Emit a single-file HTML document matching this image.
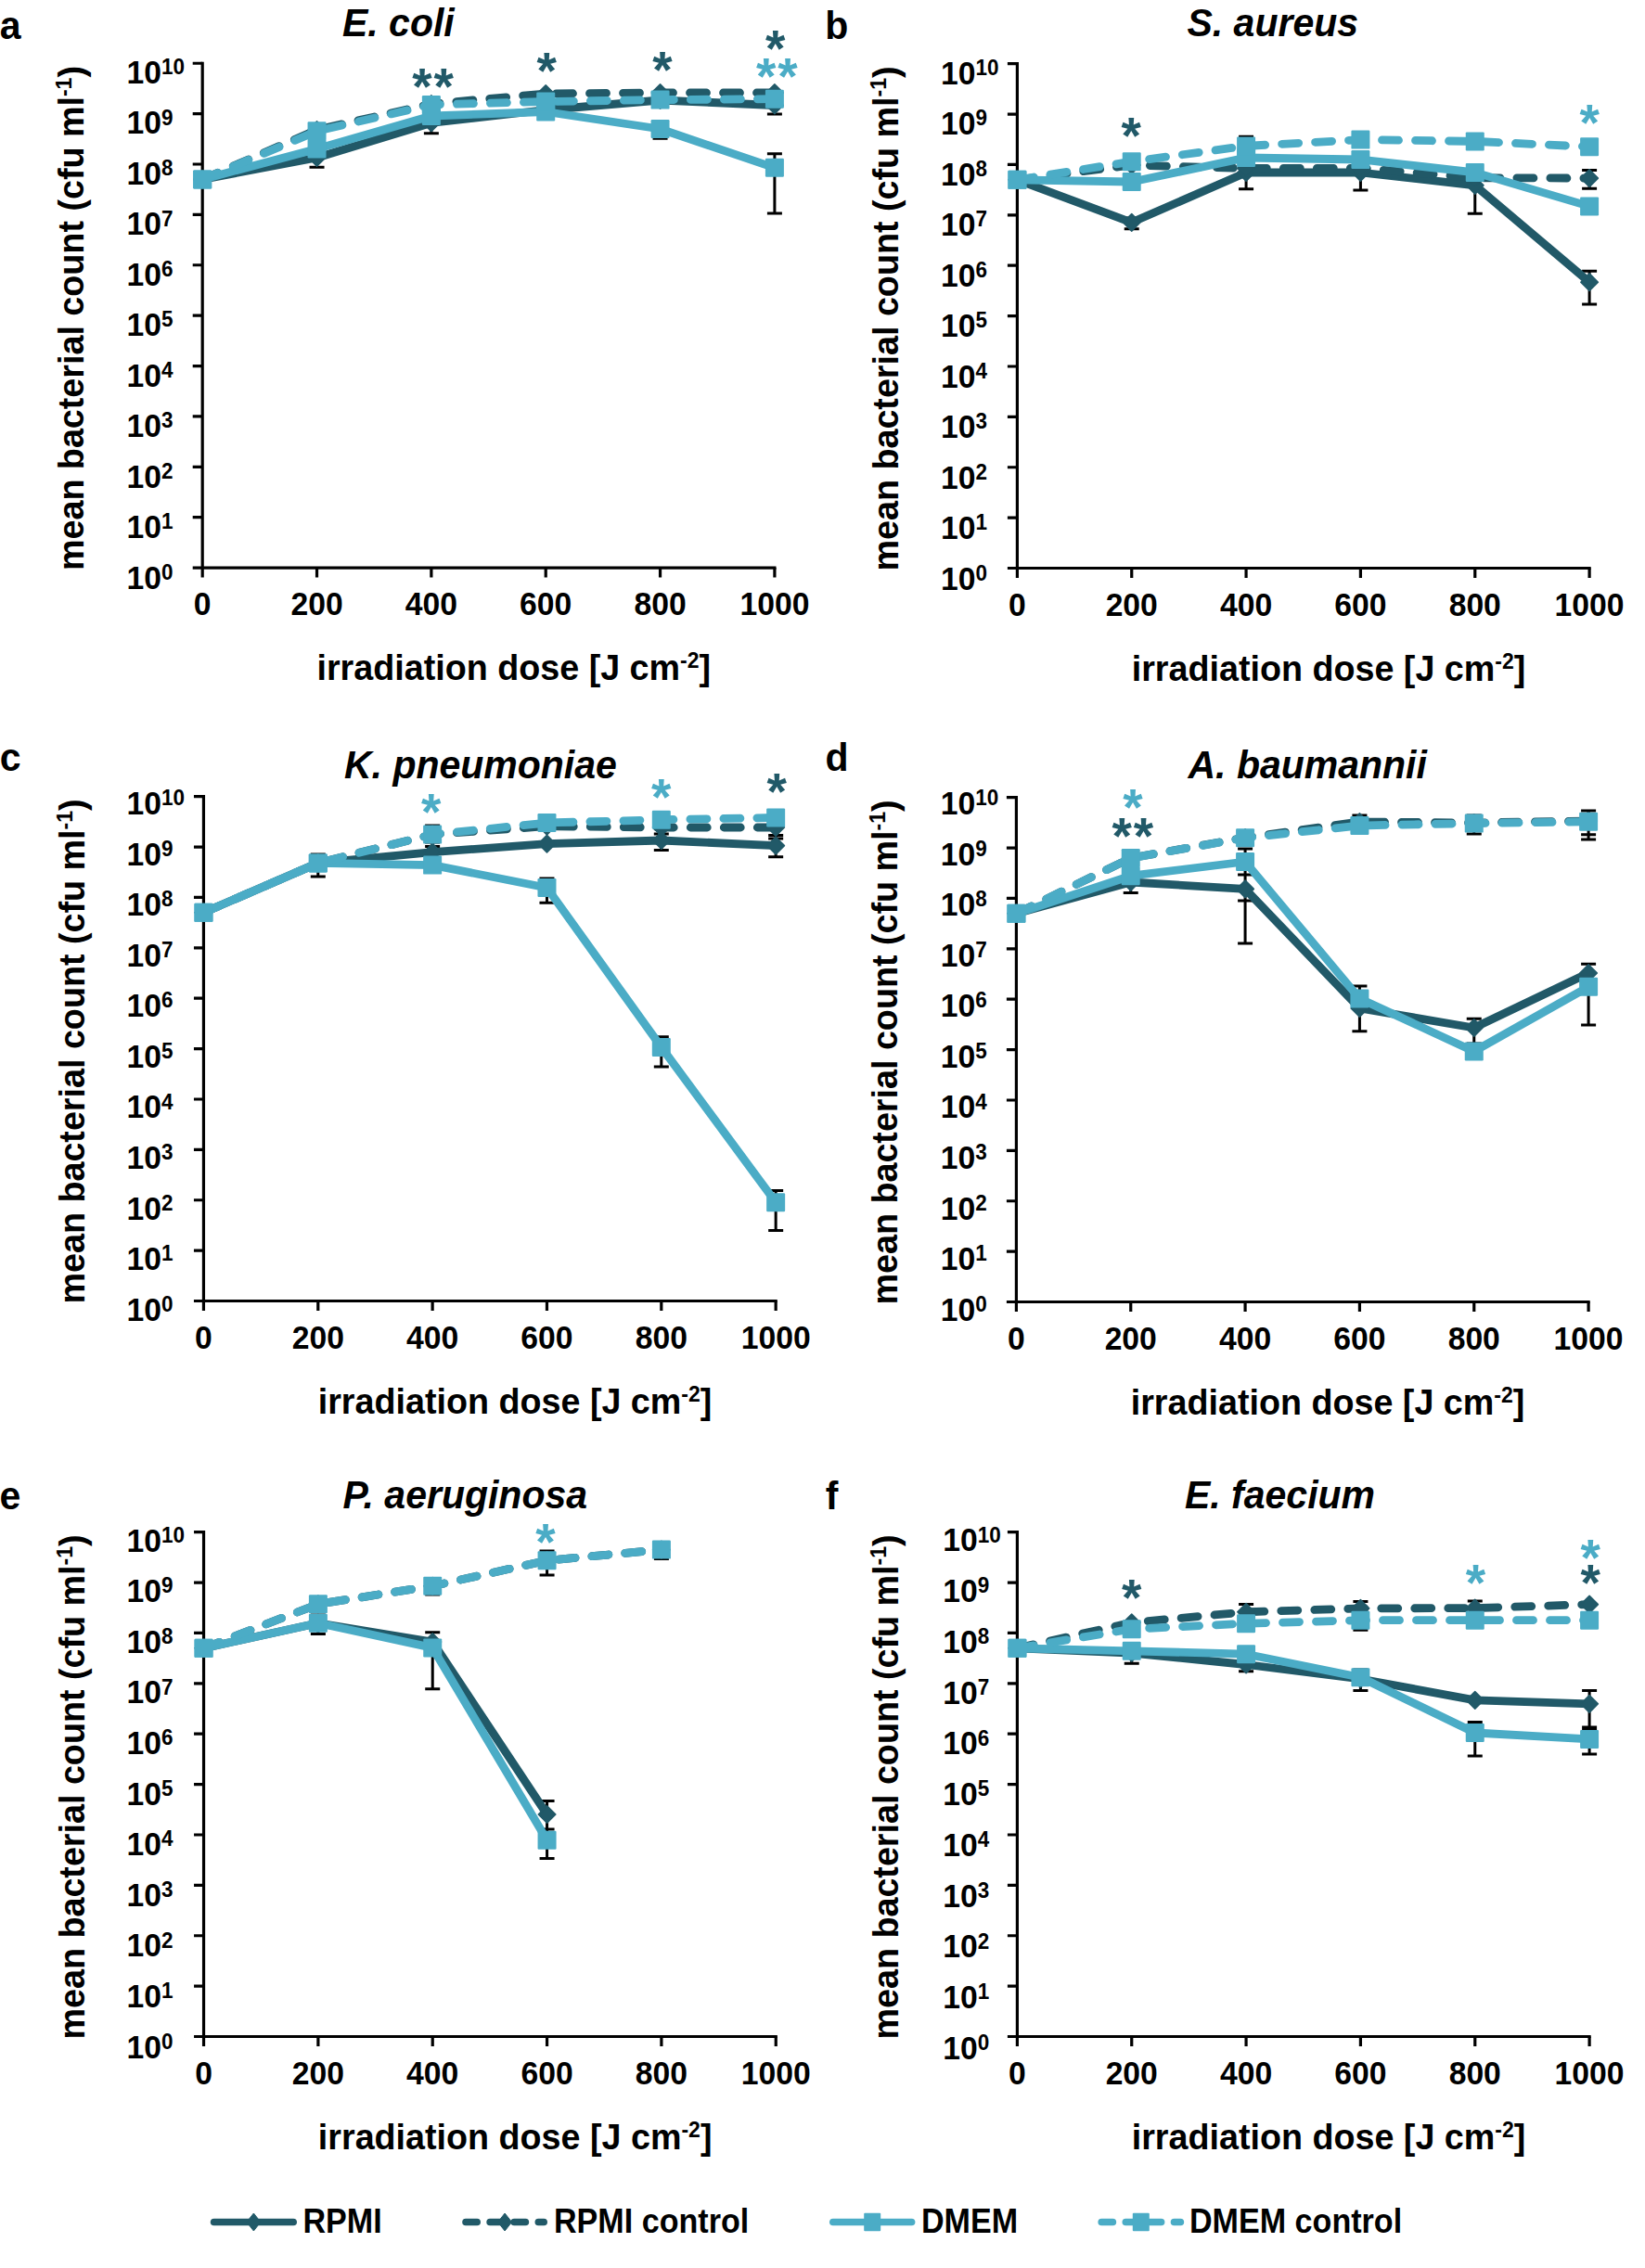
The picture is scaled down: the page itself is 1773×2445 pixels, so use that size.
<!DOCTYPE html>
<html lang="en"><head><meta charset="utf-8"><title>Figure</title>
<style>html,body{margin:0;padding:0;background:#fff}body{width:1773px;height:2445px;overflow:hidden}svg{display:block}text{font-family:'Liberation Sans', Arial, Helvetica, sans-serif}</style>
</head><body>
<svg width="1773" height="2445" viewBox="0 0 1773 2445">
<rect width="1773" height="2445" fill="#fff"/>
<g>
<text transform="translate(-0.3 42.2) scale(1 1.02)" font-size="41" font-weight="bold">a</text>
<text transform="translate(369 38.5) scale(1 1.03)" font-size="41" font-weight="bold" font-style="italic">E. coli</text>
<g stroke="#000" stroke-width="3.2" fill="none" stroke-linecap="butt">
<path d="M218.2 66.65V622.55"/>
<path d="M207.7 612.05H836.5"/>
<path d="M207.7 557.67H218.2M207.7 503.29H218.2M207.7 448.91H218.2M207.7 394.53H218.2M207.7 340.15H218.2M207.7 285.77H218.2M207.7 231.39H218.2M207.7 177.01H218.2M207.7 122.63H218.2M207.7 68.25H218.2M341.54 612.05V622.55M464.88 612.05V622.55M588.22 612.05V622.55M711.56 612.05V622.55M834.9 612.05V622.55"/>
</g>
<g font-weight="bold">
<text transform="translate(136.6 634.6) scale(1 1.06)" font-size="33.7">10<tspan font-size="22.5" dy="-9.25">0</tspan></text>
<text transform="translate(136.6 580.13) scale(1 1.06)" font-size="33.7">10<tspan font-size="22.5" dy="-9.25">1</tspan></text>
<text transform="translate(136.6 525.66) scale(1 1.06)" font-size="33.7">10<tspan font-size="22.5" dy="-9.25">2</tspan></text>
<text transform="translate(136.6 471.19) scale(1 1.06)" font-size="33.7">10<tspan font-size="22.5" dy="-9.25">3</tspan></text>
<text transform="translate(136.6 416.72) scale(1 1.06)" font-size="33.7">10<tspan font-size="22.5" dy="-9.25">4</tspan></text>
<text transform="translate(136.6 362.25) scale(1 1.06)" font-size="33.7">10<tspan font-size="22.5" dy="-9.25">5</tspan></text>
<text transform="translate(136.6 307.78) scale(1 1.06)" font-size="33.7">10<tspan font-size="22.5" dy="-9.25">6</tspan></text>
<text transform="translate(136.6 253.31) scale(1 1.06)" font-size="33.7">10<tspan font-size="22.5" dy="-9.25">7</tspan></text>
<text transform="translate(136.6 198.84) scale(1 1.06)" font-size="33.7">10<tspan font-size="22.5" dy="-9.25">8</tspan></text>
<text transform="translate(136.6 144.37) scale(1 1.06)" font-size="33.7">10<tspan font-size="22.5" dy="-9.25">9</tspan></text>
<text transform="translate(136.6 89.9) scale(1 1.06)" font-size="33.7">10<tspan font-size="22.5" dy="-9.25">10</tspan></text>
<text transform="translate(218.2 663.25) scale(1 1.06)" font-size="33.7" text-anchor="middle">0</text>
<text transform="translate(341.54 663.25) scale(1 1.06)" font-size="33.7" text-anchor="middle">200</text>
<text transform="translate(464.88 663.25) scale(1 1.06)" font-size="33.7" text-anchor="middle">400</text>
<text transform="translate(588.22 663.25) scale(1 1.06)" font-size="33.7" text-anchor="middle">600</text>
<text transform="translate(711.56 663.25) scale(1 1.06)" font-size="33.7" text-anchor="middle">800</text>
<text transform="translate(834.9 663.25) scale(1 1.06)" font-size="33.7" text-anchor="middle">1000</text>
</g>
<text transform="translate(553.8 733.05) scale(1 1.01)" font-size="37.7" text-anchor="middle" font-weight="bold">irradiation dose [J cm<tspan font-size="23" dy="-12.5">-2</tspan><tspan dy="12.5">]</tspan></text>
<text transform="translate(89.5 343.05) rotate(-90) scale(1 1.01)" font-size="37.7" text-anchor="middle" font-weight="bold">mean bacterial count (cfu ml<tspan font-size="23" dy="-12.5">-1</tspan><tspan dy="12.5">)</tspan></text>
<path d="M341.54 162V180.2M333.54 162H349.54M333.54 180.2H349.54M464.88 125V143.8M456.88 125H472.88M456.88 143.8H472.88M834.9 106V123M826.9 106H842.9M826.9 123H842.9M711.56 132V149.2M703.56 132H719.56M703.56 149.2H719.56M834.9 165.8V230M826.9 165.8H842.9M826.9 230H842.9" stroke="#000" stroke-width="3" fill="none"/>
<path d="M218.2 193.38L341.54 170L464.88 132.5L588.22 118.5L711.56 108L834.9 113.5" stroke="#215968" stroke-width="8.8" fill="none" stroke-linecap="round" stroke-linejoin="round"/>
<path d="M218.2 184.08L227.5 193.38L218.2 202.68L208.9 193.38Z" fill="#215968" stroke="#215968" stroke-width="1.5" stroke-linejoin="round"/>
<path d="M341.54 160.7L350.84 170L341.54 179.3L332.24 170Z" fill="#215968" stroke="#215968" stroke-width="1.5" stroke-linejoin="round"/>
<path d="M464.88 123.2L474.18 132.5L464.88 141.8L455.58 132.5Z" fill="#215968" stroke="#215968" stroke-width="1.5" stroke-linejoin="round"/>
<path d="M588.22 109.2L597.52 118.5L588.22 127.8L578.92 118.5Z" fill="#215968" stroke="#215968" stroke-width="1.5" stroke-linejoin="round"/>
<path d="M711.56 98.7L720.86 108L711.56 117.3L702.26 108Z" fill="#215968" stroke="#215968" stroke-width="1.5" stroke-linejoin="round"/>
<path d="M834.9 104.2L844.2 113.5L834.9 122.8L825.6 113.5Z" fill="#215968" stroke="#215968" stroke-width="1.5" stroke-linejoin="round"/>
<path d="M218.2 193.38L341.54 140L464.88 112L588.22 101L711.56 100L834.9 100" stroke="#215968" stroke-width="8.8" fill="none" stroke-linecap="round" stroke-linejoin="round" stroke-dasharray="18 18"/>
<path d="M218.2 184.08L227.5 193.38L218.2 202.68L208.9 193.38Z" fill="#215968" stroke="#215968" stroke-width="1.5" stroke-linejoin="round"/>
<path d="M341.54 130.7L350.84 140L341.54 149.3L332.24 140Z" fill="#215968" stroke="#215968" stroke-width="1.5" stroke-linejoin="round"/>
<path d="M464.88 102.7L474.18 112L464.88 121.3L455.58 112Z" fill="#215968" stroke="#215968" stroke-width="1.5" stroke-linejoin="round"/>
<path d="M588.22 91.7L597.52 101L588.22 110.3L578.92 101Z" fill="#215968" stroke="#215968" stroke-width="1.5" stroke-linejoin="round"/>
<path d="M711.56 90.7L720.86 100L711.56 109.3L702.26 100Z" fill="#215968" stroke="#215968" stroke-width="1.5" stroke-linejoin="round"/>
<path d="M834.9 90.7L844.2 100L834.9 109.3L825.6 100Z" fill="#215968" stroke="#215968" stroke-width="1.5" stroke-linejoin="round"/>
<path d="M218.2 193.38L341.54 160.5L464.88 125L588.22 120.5L711.56 139L834.9 180.8" stroke="#4bacc6" stroke-width="8.8" fill="none" stroke-linecap="round" stroke-linejoin="round"/>
<rect x="208.2" y="183.38" width="20" height="20" rx="1.2" fill="#4bacc6"/>
<rect x="331.54" y="150.5" width="20" height="20" rx="1.2" fill="#4bacc6"/>
<rect x="454.88" y="115" width="20" height="20" rx="1.2" fill="#4bacc6"/>
<rect x="578.22" y="110.5" width="20" height="20" rx="1.2" fill="#4bacc6"/>
<rect x="701.56" y="129" width="20" height="20" rx="1.2" fill="#4bacc6"/>
<rect x="824.9" y="170.8" width="20" height="20" rx="1.2" fill="#4bacc6"/>
<path d="M218.2 193.38L341.54 141.3L464.88 113L588.22 109.5L711.56 107.6L834.9 106.7" stroke="#4bacc6" stroke-width="8.8" fill="none" stroke-linecap="round" stroke-linejoin="round" stroke-dasharray="18 18"/>
<rect x="208.2" y="183.38" width="20" height="20" rx="1.2" fill="#4bacc6"/>
<rect x="331.54" y="131.3" width="20" height="20" rx="1.2" fill="#4bacc6"/>
<rect x="454.88" y="103" width="20" height="20" rx="1.2" fill="#4bacc6"/>
<rect x="578.22" y="99.5" width="20" height="20" rx="1.2" fill="#4bacc6"/>
<rect x="701.56" y="97.6" width="20" height="20" rx="1.2" fill="#4bacc6"/>
<rect x="824.9" y="96.7" width="20" height="20" rx="1.2" fill="#4bacc6"/>
<text transform="translate(467.6 111.5)" font-size="55" text-anchor="middle" font-weight="bold" fill="#215968" letter-spacing="2">**</text>
<text transform="translate(589.1 95.2)" font-size="55" text-anchor="middle" font-weight="bold" fill="#215968">*</text>
<text transform="translate(714 93.9)" font-size="55" text-anchor="middle" font-weight="bold" fill="#215968">*</text>
<text transform="translate(835.7 71.1)" font-size="55" text-anchor="middle" font-weight="bold" fill="#215968">*</text>
<text transform="translate(838.3 100.5)" font-size="55" text-anchor="middle" font-weight="bold" fill="#4bacc6" letter-spacing="2">**</text>
</g>
<g>
<text transform="translate(889.3 42.2) scale(1 1.02)" font-size="41" font-weight="bold">b</text>
<text transform="translate(1279.5 38.5) scale(1 1.03)" font-size="41" font-weight="bold" font-style="italic">S. aureus</text>
<g stroke="#000" stroke-width="3.2" fill="none" stroke-linecap="butt">
<path d="M1096.4 67.1V623"/>
<path d="M1085.9 612.5H1714.7"/>
<path d="M1085.9 558.12H1096.4M1085.9 503.74H1096.4M1085.9 449.36H1096.4M1085.9 394.98H1096.4M1085.9 340.6H1096.4M1085.9 286.22H1096.4M1085.9 231.84H1096.4M1085.9 177.46H1096.4M1085.9 123.08H1096.4M1085.9 68.7H1096.4M1219.74 612.5V623M1343.08 612.5V623M1466.42 612.5V623M1589.76 612.5V623M1713.1 612.5V623"/>
</g>
<g font-weight="bold">
<text transform="translate(1014.1 635.6) scale(1 1.06)" font-size="33.7">10<tspan font-size="22.5" dy="-9.25">0</tspan></text>
<text transform="translate(1014.1 581.11) scale(1 1.06)" font-size="33.7">10<tspan font-size="22.5" dy="-9.25">1</tspan></text>
<text transform="translate(1014.1 526.62) scale(1 1.06)" font-size="33.7">10<tspan font-size="22.5" dy="-9.25">2</tspan></text>
<text transform="translate(1014.1 472.13) scale(1 1.06)" font-size="33.7">10<tspan font-size="22.5" dy="-9.25">3</tspan></text>
<text transform="translate(1014.1 417.64) scale(1 1.06)" font-size="33.7">10<tspan font-size="22.5" dy="-9.25">4</tspan></text>
<text transform="translate(1014.1 363.15) scale(1 1.06)" font-size="33.7">10<tspan font-size="22.5" dy="-9.25">5</tspan></text>
<text transform="translate(1014.1 308.66) scale(1 1.06)" font-size="33.7">10<tspan font-size="22.5" dy="-9.25">6</tspan></text>
<text transform="translate(1014.1 254.17) scale(1 1.06)" font-size="33.7">10<tspan font-size="22.5" dy="-9.25">7</tspan></text>
<text transform="translate(1014.1 199.68) scale(1 1.06)" font-size="33.7">10<tspan font-size="22.5" dy="-9.25">8</tspan></text>
<text transform="translate(1014.1 145.19) scale(1 1.06)" font-size="33.7">10<tspan font-size="22.5" dy="-9.25">9</tspan></text>
<text transform="translate(1014.1 90.7) scale(1 1.06)" font-size="33.7">10<tspan font-size="22.5" dy="-9.25">10</tspan></text>
<text transform="translate(1096.4 663.7) scale(1 1.06)" font-size="33.7" text-anchor="middle">0</text>
<text transform="translate(1219.74 663.7) scale(1 1.06)" font-size="33.7" text-anchor="middle">200</text>
<text transform="translate(1343.08 663.7) scale(1 1.06)" font-size="33.7" text-anchor="middle">400</text>
<text transform="translate(1466.42 663.7) scale(1 1.06)" font-size="33.7" text-anchor="middle">600</text>
<text transform="translate(1589.76 663.7) scale(1 1.06)" font-size="33.7" text-anchor="middle">800</text>
<text transform="translate(1713.1 663.7) scale(1 1.06)" font-size="33.7" text-anchor="middle">1000</text>
</g>
<text transform="translate(1432 733.5) scale(1 1.01)" font-size="37.7" text-anchor="middle" font-weight="bold">irradiation dose [J cm<tspan font-size="23" dy="-12.5">-2</tspan><tspan dy="12.5">]</tspan></text>
<text transform="translate(967.7 343.5) rotate(-90) scale(1 1.01)" font-size="37.7" text-anchor="middle" font-weight="bold">mean bacterial count (cfu ml<tspan font-size="23" dy="-12.5">-1</tspan><tspan dy="12.5">)</tspan></text>
<path d="M1219.74 235V246.7M1211.74 235H1227.74M1211.74 246.7H1227.74M1343.08 176V203.8M1335.08 176H1351.08M1335.08 203.8H1351.08M1466.42 176V205M1458.42 176H1474.42M1458.42 205H1474.42M1589.76 188V230.2M1581.76 188H1597.76M1581.76 230.2H1597.76M1713.1 292.2V328M1705.1 292.2H1721.1M1705.1 328H1721.1M1713.1 183.6V203.2M1705.1 183.6H1721.1M1705.1 203.2H1721.1M1343.08 147.3V168M1335.08 147.3H1351.08M1335.08 168H1351.08" stroke="#000" stroke-width="3" fill="none"/>
<path d="M1096.4 193.83L1219.74 239.8L1343.08 186L1466.42 186L1589.76 199.8L1713.1 304.2" stroke="#215968" stroke-width="8.8" fill="none" stroke-linecap="round" stroke-linejoin="round"/>
<path d="M1096.4 184.53L1105.7 193.83L1096.4 203.13L1087.1 193.83Z" fill="#215968" stroke="#215968" stroke-width="1.5" stroke-linejoin="round"/>
<path d="M1219.74 230.5L1229.04 239.8L1219.74 249.1L1210.44 239.8Z" fill="#215968" stroke="#215968" stroke-width="1.5" stroke-linejoin="round"/>
<path d="M1343.08 176.7L1352.38 186L1343.08 195.3L1333.78 186Z" fill="#215968" stroke="#215968" stroke-width="1.5" stroke-linejoin="round"/>
<path d="M1466.42 176.7L1475.72 186L1466.42 195.3L1457.12 186Z" fill="#215968" stroke="#215968" stroke-width="1.5" stroke-linejoin="round"/>
<path d="M1589.76 190.5L1599.06 199.8L1589.76 209.1L1580.46 199.8Z" fill="#215968" stroke="#215968" stroke-width="1.5" stroke-linejoin="round"/>
<path d="M1713.1 294.9L1722.4 304.2L1713.1 313.5L1703.8 304.2Z" fill="#215968" stroke="#215968" stroke-width="1.5" stroke-linejoin="round"/>
<path d="M1096.4 193.83L1219.74 178L1343.08 181.5L1466.42 181.3L1589.76 191.7L1713.1 192.1" stroke="#215968" stroke-width="8.8" fill="none" stroke-linecap="round" stroke-linejoin="round" stroke-dasharray="18 18"/>
<path d="M1096.4 184.53L1105.7 193.83L1096.4 203.13L1087.1 193.83Z" fill="#215968" stroke="#215968" stroke-width="1.5" stroke-linejoin="round"/>
<path d="M1219.74 168.7L1229.04 178L1219.74 187.3L1210.44 178Z" fill="#215968" stroke="#215968" stroke-width="1.5" stroke-linejoin="round"/>
<path d="M1343.08 172.2L1352.38 181.5L1343.08 190.8L1333.78 181.5Z" fill="#215968" stroke="#215968" stroke-width="1.5" stroke-linejoin="round"/>
<path d="M1466.42 172L1475.72 181.3L1466.42 190.6L1457.12 181.3Z" fill="#215968" stroke="#215968" stroke-width="1.5" stroke-linejoin="round"/>
<path d="M1589.76 182.4L1599.06 191.7L1589.76 201L1580.46 191.7Z" fill="#215968" stroke="#215968" stroke-width="1.5" stroke-linejoin="round"/>
<path d="M1713.1 182.8L1722.4 192.1L1713.1 201.4L1703.8 192.1Z" fill="#215968" stroke="#215968" stroke-width="1.5" stroke-linejoin="round"/>
<path d="M1096.4 193.83L1219.74 196L1343.08 170L1466.42 172L1589.76 185.9L1713.1 222.4" stroke="#4bacc6" stroke-width="8.8" fill="none" stroke-linecap="round" stroke-linejoin="round"/>
<rect x="1086.4" y="183.83" width="20" height="20" rx="1.2" fill="#4bacc6"/>
<rect x="1209.74" y="186" width="20" height="20" rx="1.2" fill="#4bacc6"/>
<rect x="1333.08" y="160" width="20" height="20" rx="1.2" fill="#4bacc6"/>
<rect x="1456.42" y="162" width="20" height="20" rx="1.2" fill="#4bacc6"/>
<rect x="1579.76" y="175.9" width="20" height="20" rx="1.2" fill="#4bacc6"/>
<rect x="1703.1" y="212.4" width="20" height="20" rx="1.2" fill="#4bacc6"/>
<path d="M1096.4 193.83L1219.74 174.2L1343.08 157.4L1466.42 150.6L1589.76 152.4L1713.1 158.2" stroke="#4bacc6" stroke-width="8.8" fill="none" stroke-linecap="round" stroke-linejoin="round" stroke-dasharray="18 18"/>
<rect x="1086.4" y="183.83" width="20" height="20" rx="1.2" fill="#4bacc6"/>
<rect x="1209.74" y="164.2" width="20" height="20" rx="1.2" fill="#4bacc6"/>
<rect x="1333.08" y="147.4" width="20" height="20" rx="1.2" fill="#4bacc6"/>
<rect x="1456.42" y="140.6" width="20" height="20" rx="1.2" fill="#4bacc6"/>
<rect x="1579.76" y="142.4" width="20" height="20" rx="1.2" fill="#4bacc6"/>
<rect x="1703.1" y="148.2" width="20" height="20" rx="1.2" fill="#4bacc6"/>
<text transform="translate(1219.2 164.9)" font-size="55" text-anchor="middle" font-weight="bold" fill="#215968">*</text>
<text transform="translate(1713.1 151.4)" font-size="55" text-anchor="middle" font-weight="bold" fill="#4bacc6">*</text>
</g>
<g>
<text transform="translate(-0.2 831.2) scale(1 1.02)" font-size="41" font-weight="bold">c</text>
<text transform="translate(371 838.7) scale(1 1.03)" font-size="41" font-weight="bold" font-style="italic">K. pneumoniae</text>
<g stroke="#000" stroke-width="3.2" fill="none" stroke-linecap="butt">
<path d="M219.45 857.1V1413"/>
<path d="M208.95 1402.5H837.75"/>
<path d="M208.95 1348.12H219.45M208.95 1293.74H219.45M208.95 1239.36H219.45M208.95 1184.98H219.45M208.95 1130.6H219.45M208.95 1076.22H219.45M208.95 1021.84H219.45M208.95 967.46H219.45M208.95 913.08H219.45M208.95 858.7H219.45M342.79 1402.5V1413M466.13 1402.5V1413M589.47 1402.5V1413M712.81 1402.5V1413M836.15 1402.5V1413"/>
</g>
<g font-weight="bold">
<text transform="translate(136.6 1423.6) scale(1 1.06)" font-size="33.7">10<tspan font-size="22.5" dy="-9.25">0</tspan></text>
<text transform="translate(136.6 1369.05) scale(1 1.06)" font-size="33.7">10<tspan font-size="22.5" dy="-9.25">1</tspan></text>
<text transform="translate(136.6 1314.5) scale(1 1.06)" font-size="33.7">10<tspan font-size="22.5" dy="-9.25">2</tspan></text>
<text transform="translate(136.6 1259.95) scale(1 1.06)" font-size="33.7">10<tspan font-size="22.5" dy="-9.25">3</tspan></text>
<text transform="translate(136.6 1205.4) scale(1 1.06)" font-size="33.7">10<tspan font-size="22.5" dy="-9.25">4</tspan></text>
<text transform="translate(136.6 1150.85) scale(1 1.06)" font-size="33.7">10<tspan font-size="22.5" dy="-9.25">5</tspan></text>
<text transform="translate(136.6 1096.3) scale(1 1.06)" font-size="33.7">10<tspan font-size="22.5" dy="-9.25">6</tspan></text>
<text transform="translate(136.6 1041.75) scale(1 1.06)" font-size="33.7">10<tspan font-size="22.5" dy="-9.25">7</tspan></text>
<text transform="translate(136.6 987.2) scale(1 1.06)" font-size="33.7">10<tspan font-size="22.5" dy="-9.25">8</tspan></text>
<text transform="translate(136.6 932.65) scale(1 1.06)" font-size="33.7">10<tspan font-size="22.5" dy="-9.25">9</tspan></text>
<text transform="translate(136.6 878.1) scale(1 1.06)" font-size="33.7">10<tspan font-size="22.5" dy="-9.25">10</tspan></text>
<text transform="translate(219.45 1453.7) scale(1 1.06)" font-size="33.7" text-anchor="middle">0</text>
<text transform="translate(342.79 1453.7) scale(1 1.06)" font-size="33.7" text-anchor="middle">200</text>
<text transform="translate(466.13 1453.7) scale(1 1.06)" font-size="33.7" text-anchor="middle">400</text>
<text transform="translate(589.47 1453.7) scale(1 1.06)" font-size="33.7" text-anchor="middle">600</text>
<text transform="translate(712.81 1453.7) scale(1 1.06)" font-size="33.7" text-anchor="middle">800</text>
<text transform="translate(836.15 1453.7) scale(1 1.06)" font-size="33.7" text-anchor="middle">1000</text>
</g>
<text transform="translate(555.05 1523.5) scale(1 1.01)" font-size="37.7" text-anchor="middle" font-weight="bold">irradiation dose [J cm<tspan font-size="23" dy="-12.5">-2</tspan><tspan dy="12.5">]</tspan></text>
<text transform="translate(90.75 1133.5) rotate(-90) scale(1 1.01)" font-size="37.7" text-anchor="middle" font-weight="bold">mean bacterial count (cfu ml<tspan font-size="23" dy="-12.5">-1</tspan><tspan dy="12.5">)</tspan></text>
<path d="M342.79 921V945M334.79 921H350.79M334.79 945H350.79M466.13 908V930M458.13 908H474.13M458.13 930H474.13M712.81 899V916.4M704.81 899H720.81M704.81 916.4H720.81M836.15 900.5V923.7M828.15 900.5H844.15M828.15 923.7H844.15M836.15 882V904M828.15 882H844.15M828.15 904H844.15M589.47 947V973.2M581.47 947H597.47M581.47 973.2H597.47M712.81 1117.8V1150M704.81 1117.8H720.81M704.81 1150H720.81M836.15 1283.4V1326.4M828.15 1283.4H844.15M828.15 1326.4H844.15M466.13 890V912.5M458.13 890H474.13M458.13 912.5H474.13" stroke="#000" stroke-width="3" fill="none"/>
<path d="M219.45 983.83L342.79 930.4L466.13 918.6L589.47 909.7L712.81 906L836.15 911.6" stroke="#215968" stroke-width="8.8" fill="none" stroke-linecap="round" stroke-linejoin="round"/>
<path d="M219.45 974.53L228.75 983.83L219.45 993.13L210.15 983.83Z" fill="#215968" stroke="#215968" stroke-width="1.5" stroke-linejoin="round"/>
<path d="M342.79 921.1L352.09 930.4L342.79 939.7L333.49 930.4Z" fill="#215968" stroke="#215968" stroke-width="1.5" stroke-linejoin="round"/>
<path d="M466.13 909.3L475.43 918.6L466.13 927.9L456.83 918.6Z" fill="#215968" stroke="#215968" stroke-width="1.5" stroke-linejoin="round"/>
<path d="M589.47 900.4L598.77 909.7L589.47 919L580.17 909.7Z" fill="#215968" stroke="#215968" stroke-width="1.5" stroke-linejoin="round"/>
<path d="M712.81 896.7L722.11 906L712.81 915.3L703.51 906Z" fill="#215968" stroke="#215968" stroke-width="1.5" stroke-linejoin="round"/>
<path d="M836.15 902.3L845.45 911.6L836.15 920.9L826.85 911.6Z" fill="#215968" stroke="#215968" stroke-width="1.5" stroke-linejoin="round"/>
<path d="M219.45 983.83L342.79 930.4L466.13 899.6L589.47 890.7L712.81 892L836.15 892" stroke="#215968" stroke-width="8.8" fill="none" stroke-linecap="round" stroke-linejoin="round" stroke-dasharray="18 18"/>
<path d="M219.45 974.53L228.75 983.83L219.45 993.13L210.15 983.83Z" fill="#215968" stroke="#215968" stroke-width="1.5" stroke-linejoin="round"/>
<path d="M342.79 921.1L352.09 930.4L342.79 939.7L333.49 930.4Z" fill="#215968" stroke="#215968" stroke-width="1.5" stroke-linejoin="round"/>
<path d="M466.13 890.3L475.43 899.6L466.13 908.9L456.83 899.6Z" fill="#215968" stroke="#215968" stroke-width="1.5" stroke-linejoin="round"/>
<path d="M589.47 881.4L598.77 890.7L589.47 900L580.17 890.7Z" fill="#215968" stroke="#215968" stroke-width="1.5" stroke-linejoin="round"/>
<path d="M712.81 882.7L722.11 892L712.81 901.3L703.51 892Z" fill="#215968" stroke="#215968" stroke-width="1.5" stroke-linejoin="round"/>
<path d="M836.15 882.7L845.45 892L836.15 901.3L826.85 892Z" fill="#215968" stroke="#215968" stroke-width="1.5" stroke-linejoin="round"/>
<path d="M219.45 983.83L342.79 930.4L466.13 932.6L589.47 957L712.81 1128.9L836.15 1296.2" stroke="#4bacc6" stroke-width="8.8" fill="none" stroke-linecap="round" stroke-linejoin="round"/>
<rect x="209.45" y="973.83" width="20" height="20" rx="1.2" fill="#4bacc6"/>
<rect x="332.79" y="920.4" width="20" height="20" rx="1.2" fill="#4bacc6"/>
<rect x="456.13" y="922.6" width="20" height="20" rx="1.2" fill="#4bacc6"/>
<rect x="579.47" y="947" width="20" height="20" rx="1.2" fill="#4bacc6"/>
<rect x="702.81" y="1118.9" width="20" height="20" rx="1.2" fill="#4bacc6"/>
<rect x="826.15" y="1286.2" width="20" height="20" rx="1.2" fill="#4bacc6"/>
<path d="M219.45 983.83L342.79 930.4L466.13 899.6L589.47 887L712.81 883.7L836.15 881.4" stroke="#4bacc6" stroke-width="8.8" fill="none" stroke-linecap="round" stroke-linejoin="round" stroke-dasharray="18 18"/>
<rect x="209.45" y="973.83" width="20" height="20" rx="1.2" fill="#4bacc6"/>
<rect x="332.79" y="920.4" width="20" height="20" rx="1.2" fill="#4bacc6"/>
<rect x="456.13" y="889.6" width="20" height="20" rx="1.2" fill="#4bacc6"/>
<rect x="579.47" y="877" width="20" height="20" rx="1.2" fill="#4bacc6"/>
<rect x="702.81" y="873.7" width="20" height="20" rx="1.2" fill="#4bacc6"/>
<rect x="826.15" y="871.4" width="20" height="20" rx="1.2" fill="#4bacc6"/>
<text transform="translate(464.6 893.8)" font-size="55" text-anchor="middle" font-weight="bold" fill="#4bacc6">*</text>
<text transform="translate(712.8 877.6)" font-size="55" text-anchor="middle" font-weight="bold" fill="#4bacc6">*</text>
<text transform="translate(837.3 872)" font-size="55" text-anchor="middle" font-weight="bold" fill="#215968">*</text>
</g>
<g>
<text transform="translate(889.5 831.2) scale(1 1.02)" font-size="41" font-weight="bold">d</text>
<text transform="translate(1280.5 838.7) scale(1 1.03)" font-size="41" font-weight="bold" font-style="italic">A. baumannii</text>
<g stroke="#000" stroke-width="3.2" fill="none" stroke-linecap="butt">
<path d="M1095.4 858.1V1414"/>
<path d="M1084.9 1403.5H1713.7"/>
<path d="M1084.9 1349.12H1095.4M1084.9 1294.74H1095.4M1084.9 1240.36H1095.4M1084.9 1185.98H1095.4M1084.9 1131.6H1095.4M1084.9 1077.22H1095.4M1084.9 1022.84H1095.4M1084.9 968.46H1095.4M1084.9 914.08H1095.4M1084.9 859.7H1095.4M1218.74 1403.5V1414M1342.08 1403.5V1414M1465.42 1403.5V1414M1588.76 1403.5V1414M1712.1 1403.5V1414"/>
</g>
<g font-weight="bold">
<text transform="translate(1013.7 1423.6) scale(1 1.06)" font-size="33.7">10<tspan font-size="22.5" dy="-9.25">0</tspan></text>
<text transform="translate(1013.7 1369.05) scale(1 1.06)" font-size="33.7">10<tspan font-size="22.5" dy="-9.25">1</tspan></text>
<text transform="translate(1013.7 1314.5) scale(1 1.06)" font-size="33.7">10<tspan font-size="22.5" dy="-9.25">2</tspan></text>
<text transform="translate(1013.7 1259.95) scale(1 1.06)" font-size="33.7">10<tspan font-size="22.5" dy="-9.25">3</tspan></text>
<text transform="translate(1013.7 1205.4) scale(1 1.06)" font-size="33.7">10<tspan font-size="22.5" dy="-9.25">4</tspan></text>
<text transform="translate(1013.7 1150.85) scale(1 1.06)" font-size="33.7">10<tspan font-size="22.5" dy="-9.25">5</tspan></text>
<text transform="translate(1013.7 1096.3) scale(1 1.06)" font-size="33.7">10<tspan font-size="22.5" dy="-9.25">6</tspan></text>
<text transform="translate(1013.7 1041.75) scale(1 1.06)" font-size="33.7">10<tspan font-size="22.5" dy="-9.25">7</tspan></text>
<text transform="translate(1013.7 987.2) scale(1 1.06)" font-size="33.7">10<tspan font-size="22.5" dy="-9.25">8</tspan></text>
<text transform="translate(1013.7 932.65) scale(1 1.06)" font-size="33.7">10<tspan font-size="22.5" dy="-9.25">9</tspan></text>
<text transform="translate(1013.7 878.1) scale(1 1.06)" font-size="33.7">10<tspan font-size="22.5" dy="-9.25">10</tspan></text>
<text transform="translate(1095.4 1454.7) scale(1 1.06)" font-size="33.7" text-anchor="middle">0</text>
<text transform="translate(1218.74 1454.7) scale(1 1.06)" font-size="33.7" text-anchor="middle">200</text>
<text transform="translate(1342.08 1454.7) scale(1 1.06)" font-size="33.7" text-anchor="middle">400</text>
<text transform="translate(1465.42 1454.7) scale(1 1.06)" font-size="33.7" text-anchor="middle">600</text>
<text transform="translate(1588.76 1454.7) scale(1 1.06)" font-size="33.7" text-anchor="middle">800</text>
<text transform="translate(1712.1 1454.7) scale(1 1.06)" font-size="33.7" text-anchor="middle">1000</text>
</g>
<text transform="translate(1431 1524.5) scale(1 1.01)" font-size="37.7" text-anchor="middle" font-weight="bold">irradiation dose [J cm<tspan font-size="23" dy="-12.5">-2</tspan><tspan dy="12.5">]</tspan></text>
<text transform="translate(966.7 1134.5) rotate(-90) scale(1 1.01)" font-size="37.7" text-anchor="middle" font-weight="bold">mean bacterial count (cfu ml<tspan font-size="23" dy="-12.5">-1</tspan><tspan dy="12.5">)</tspan></text>
<path d="M1218.74 944V962.6M1210.74 944H1226.74M1210.74 962.6H1226.74M1342.08 943V1017M1334.08 943H1350.08M1334.08 1017H1350.08M1465.42 1063V1111.8M1457.42 1063H1473.42M1457.42 1111.8H1473.42M1588.76 1098.2V1125M1580.76 1098.2H1596.76M1580.76 1125H1596.76M1712.1 1039.3V1066M1704.1 1039.3H1720.1M1704.1 1066H1720.1M1465.42 879V894M1457.42 879H1473.42M1457.42 894H1473.42M1712.1 874V899.8M1704.1 874H1720.1M1704.1 899.8H1720.1M1342.08 915V971M1334.08 915H1350.08M1334.08 971H1350.08M1712.1 1049.6V1105M1704.1 1049.6H1720.1M1704.1 1105H1720.1M1588.76 879V898.9M1580.76 879H1596.76M1580.76 898.9H1596.76M1712.1 874V905M1704.1 874H1720.1M1704.1 905H1720.1" stroke="#000" stroke-width="3" fill="none"/>
<path d="M1095.4 984.83L1218.74 951L1342.08 958.4L1465.42 1087L1588.76 1108L1712.1 1049" stroke="#215968" stroke-width="8.8" fill="none" stroke-linecap="round" stroke-linejoin="round"/>
<path d="M1095.4 975.53L1104.7 984.83L1095.4 994.13L1086.1 984.83Z" fill="#215968" stroke="#215968" stroke-width="1.5" stroke-linejoin="round"/>
<path d="M1218.74 941.7L1228.04 951L1218.74 960.3L1209.44 951Z" fill="#215968" stroke="#215968" stroke-width="1.5" stroke-linejoin="round"/>
<path d="M1342.08 949.1L1351.38 958.4L1342.08 967.7L1332.78 958.4Z" fill="#215968" stroke="#215968" stroke-width="1.5" stroke-linejoin="round"/>
<path d="M1465.42 1077.7L1474.72 1087L1465.42 1096.3L1456.12 1087Z" fill="#215968" stroke="#215968" stroke-width="1.5" stroke-linejoin="round"/>
<path d="M1588.76 1098.7L1598.06 1108L1588.76 1117.3L1579.46 1108Z" fill="#215968" stroke="#215968" stroke-width="1.5" stroke-linejoin="round"/>
<path d="M1712.1 1039.7L1721.4 1049L1712.1 1058.3L1702.8 1049Z" fill="#215968" stroke="#215968" stroke-width="1.5" stroke-linejoin="round"/>
<path d="M1095.4 984.83L1218.74 925L1342.08 903L1465.42 886L1588.76 887L1712.1 885" stroke="#215968" stroke-width="8.8" fill="none" stroke-linecap="round" stroke-linejoin="round" stroke-dasharray="18 18"/>
<path d="M1095.4 975.53L1104.7 984.83L1095.4 994.13L1086.1 984.83Z" fill="#215968" stroke="#215968" stroke-width="1.5" stroke-linejoin="round"/>
<path d="M1218.74 915.7L1228.04 925L1218.74 934.3L1209.44 925Z" fill="#215968" stroke="#215968" stroke-width="1.5" stroke-linejoin="round"/>
<path d="M1342.08 893.7L1351.38 903L1342.08 912.3L1332.78 903Z" fill="#215968" stroke="#215968" stroke-width="1.5" stroke-linejoin="round"/>
<path d="M1465.42 876.7L1474.72 886L1465.42 895.3L1456.12 886Z" fill="#215968" stroke="#215968" stroke-width="1.5" stroke-linejoin="round"/>
<path d="M1588.76 877.7L1598.06 887L1588.76 896.3L1579.46 887Z" fill="#215968" stroke="#215968" stroke-width="1.5" stroke-linejoin="round"/>
<path d="M1712.1 875.7L1721.4 885L1712.1 894.3L1702.8 885Z" fill="#215968" stroke="#215968" stroke-width="1.5" stroke-linejoin="round"/>
<path d="M1095.4 984.83L1218.74 944.2L1342.08 929L1465.42 1076.5L1588.76 1133.4L1712.1 1063.8" stroke="#4bacc6" stroke-width="8.8" fill="none" stroke-linecap="round" stroke-linejoin="round"/>
<rect x="1085.4" y="974.83" width="20" height="20" rx="1.2" fill="#4bacc6"/>
<rect x="1208.74" y="934.2" width="20" height="20" rx="1.2" fill="#4bacc6"/>
<rect x="1332.08" y="919" width="20" height="20" rx="1.2" fill="#4bacc6"/>
<rect x="1455.42" y="1066.5" width="20" height="20" rx="1.2" fill="#4bacc6"/>
<rect x="1578.76" y="1123.4" width="20" height="20" rx="1.2" fill="#4bacc6"/>
<rect x="1702.1" y="1053.8" width="20" height="20" rx="1.2" fill="#4bacc6"/>
<path d="M1095.4 984.83L1218.74 925L1342.08 903.3L1465.42 890L1588.76 887.6L1712.1 885.8" stroke="#4bacc6" stroke-width="8.8" fill="none" stroke-linecap="round" stroke-linejoin="round" stroke-dasharray="18 18"/>
<rect x="1085.4" y="974.83" width="20" height="20" rx="1.2" fill="#4bacc6"/>
<rect x="1208.74" y="915" width="20" height="20" rx="1.2" fill="#4bacc6"/>
<rect x="1332.08" y="893.3" width="20" height="20" rx="1.2" fill="#4bacc6"/>
<rect x="1455.42" y="880" width="20" height="20" rx="1.2" fill="#4bacc6"/>
<rect x="1578.76" y="877.6" width="20" height="20" rx="1.2" fill="#4bacc6"/>
<rect x="1702.1" y="875.8" width="20" height="20" rx="1.2" fill="#4bacc6"/>
<text transform="translate(1220.9 889.2)" font-size="55" text-anchor="middle" font-weight="bold" fill="#4bacc6">*</text>
<text transform="translate(1221.8 919.6)" font-size="55" text-anchor="middle" font-weight="bold" fill="#215968" letter-spacing="2">**</text>
</g>
<g>
<text transform="translate(-0.5 1627) scale(1 1.02)" font-size="41" font-weight="bold">e</text>
<text transform="translate(369.5 1625.7) scale(1 1.03)" font-size="41" font-weight="bold" font-style="italic">P. aeruginosa</text>
<g stroke="#000" stroke-width="3.2" fill="none" stroke-linecap="butt">
<path d="M219.55 1650.1V2206"/>
<path d="M209.05 2195.5H837.85"/>
<path d="M209.05 2141.12H219.55M209.05 2086.74H219.55M209.05 2032.36H219.55M209.05 1977.98H219.55M209.05 1923.6H219.55M209.05 1869.22H219.55M209.05 1814.84H219.55M209.05 1760.46H219.55M209.05 1706.08H219.55M209.05 1651.7H219.55M342.89 2195.5V2206M466.23 2195.5V2206M589.57 2195.5V2206M712.91 2195.5V2206M836.25 2195.5V2206"/>
</g>
<g font-weight="bold">
<text transform="translate(136.6 2218.6) scale(1 1.06)" font-size="33.7">10<tspan font-size="22.5" dy="-9.25">0</tspan></text>
<text transform="translate(136.6 2163.99) scale(1 1.06)" font-size="33.7">10<tspan font-size="22.5" dy="-9.25">1</tspan></text>
<text transform="translate(136.6 2109.38) scale(1 1.06)" font-size="33.7">10<tspan font-size="22.5" dy="-9.25">2</tspan></text>
<text transform="translate(136.6 2054.77) scale(1 1.06)" font-size="33.7">10<tspan font-size="22.5" dy="-9.25">3</tspan></text>
<text transform="translate(136.6 2000.16) scale(1 1.06)" font-size="33.7">10<tspan font-size="22.5" dy="-9.25">4</tspan></text>
<text transform="translate(136.6 1945.55) scale(1 1.06)" font-size="33.7">10<tspan font-size="22.5" dy="-9.25">5</tspan></text>
<text transform="translate(136.6 1890.94) scale(1 1.06)" font-size="33.7">10<tspan font-size="22.5" dy="-9.25">6</tspan></text>
<text transform="translate(136.6 1836.33) scale(1 1.06)" font-size="33.7">10<tspan font-size="22.5" dy="-9.25">7</tspan></text>
<text transform="translate(136.6 1781.72) scale(1 1.06)" font-size="33.7">10<tspan font-size="22.5" dy="-9.25">8</tspan></text>
<text transform="translate(136.6 1727.11) scale(1 1.06)" font-size="33.7">10<tspan font-size="22.5" dy="-9.25">9</tspan></text>
<text transform="translate(136.6 1672.5) scale(1 1.06)" font-size="33.7">10<tspan font-size="22.5" dy="-9.25">10</tspan></text>
<text transform="translate(219.55 2246.7) scale(1 1.06)" font-size="33.7" text-anchor="middle">0</text>
<text transform="translate(342.89 2246.7) scale(1 1.06)" font-size="33.7" text-anchor="middle">200</text>
<text transform="translate(466.23 2246.7) scale(1 1.06)" font-size="33.7" text-anchor="middle">400</text>
<text transform="translate(589.57 2246.7) scale(1 1.06)" font-size="33.7" text-anchor="middle">600</text>
<text transform="translate(712.91 2246.7) scale(1 1.06)" font-size="33.7" text-anchor="middle">800</text>
<text transform="translate(836.25 2246.7) scale(1 1.06)" font-size="33.7" text-anchor="middle">1000</text>
</g>
<text transform="translate(555.15 2316.5) scale(1 1.01)" font-size="37.7" text-anchor="middle" font-weight="bold">irradiation dose [J cm<tspan font-size="23" dy="-12.5">-2</tspan><tspan dy="12.5">]</tspan></text>
<text transform="translate(90.85 1926.5) rotate(-90) scale(1 1.01)" font-size="37.7" text-anchor="middle" font-weight="bold">mean bacterial count (cfu ml<tspan font-size="23" dy="-12.5">-1</tspan><tspan dy="12.5">)</tspan></text>
<path d="M342.89 1741V1761.6M334.89 1741H350.89M334.89 1761.6H350.89M466.23 1759.8V1820.8M458.23 1759.8H474.23M458.23 1820.8H474.23M589.57 1941.4V1972M581.57 1941.4H597.57M581.57 1972H597.57M589.57 1972V2003.5M581.57 1972H597.57M581.57 2003.5H597.57M466.23 1703V1719M458.23 1703H474.23M458.23 1719H474.23M589.57 1672V1698M581.57 1672H597.57M581.57 1698H597.57M712.91 1663V1680.5M704.91 1663H720.91M704.91 1680.5H720.91" stroke="#000" stroke-width="3" fill="none"/>
<path d="M219.55 1776.83L342.89 1749.8L466.23 1770L589.57 1956" stroke="#215968" stroke-width="8.8" fill="none" stroke-linecap="round" stroke-linejoin="round"/>
<path d="M219.55 1767.53L228.85 1776.83L219.55 1786.13L210.25 1776.83Z" fill="#215968" stroke="#215968" stroke-width="1.5" stroke-linejoin="round"/>
<path d="M342.89 1740.5L352.19 1749.8L342.89 1759.1L333.59 1749.8Z" fill="#215968" stroke="#215968" stroke-width="1.5" stroke-linejoin="round"/>
<path d="M466.23 1760.7L475.53 1770L466.23 1779.3L456.93 1770Z" fill="#215968" stroke="#215968" stroke-width="1.5" stroke-linejoin="round"/>
<path d="M589.57 1946.7L598.87 1956L589.57 1965.3L580.27 1956Z" fill="#215968" stroke="#215968" stroke-width="1.5" stroke-linejoin="round"/>
<path d="M219.55 1776.83L342.89 1729.3L466.23 1709.8L589.57 1682.3L712.91 1670.6" stroke="#215968" stroke-width="8.8" fill="none" stroke-linecap="round" stroke-linejoin="round" stroke-dasharray="18 18"/>
<path d="M219.55 1767.53L228.85 1776.83L219.55 1786.13L210.25 1776.83Z" fill="#215968" stroke="#215968" stroke-width="1.5" stroke-linejoin="round"/>
<path d="M342.89 1720L352.19 1729.3L342.89 1738.6L333.59 1729.3Z" fill="#215968" stroke="#215968" stroke-width="1.5" stroke-linejoin="round"/>
<path d="M466.23 1700.5L475.53 1709.8L466.23 1719.1L456.93 1709.8Z" fill="#215968" stroke="#215968" stroke-width="1.5" stroke-linejoin="round"/>
<path d="M589.57 1673L598.87 1682.3L589.57 1691.6L580.27 1682.3Z" fill="#215968" stroke="#215968" stroke-width="1.5" stroke-linejoin="round"/>
<path d="M712.91 1661.3L722.21 1670.6L712.91 1679.9L703.61 1670.6Z" fill="#215968" stroke="#215968" stroke-width="1.5" stroke-linejoin="round"/>
<path d="M219.55 1776.83L342.89 1749.8L466.23 1776.4L589.57 1983.8" stroke="#4bacc6" stroke-width="8.8" fill="none" stroke-linecap="round" stroke-linejoin="round"/>
<rect x="209.55" y="1766.83" width="20" height="20" rx="1.2" fill="#4bacc6"/>
<rect x="332.89" y="1739.8" width="20" height="20" rx="1.2" fill="#4bacc6"/>
<rect x="456.23" y="1766.4" width="20" height="20" rx="1.2" fill="#4bacc6"/>
<rect x="579.57" y="1973.8" width="20" height="20" rx="1.2" fill="#4bacc6"/>
<path d="M219.55 1776.83L342.89 1729.3L466.23 1709.8L589.57 1682.3L712.91 1670.6" stroke="#4bacc6" stroke-width="8.8" fill="none" stroke-linecap="round" stroke-linejoin="round" stroke-dasharray="18 18"/>
<rect x="209.55" y="1766.83" width="20" height="20" rx="1.2" fill="#4bacc6"/>
<rect x="332.89" y="1719.3" width="20" height="20" rx="1.2" fill="#4bacc6"/>
<rect x="456.23" y="1699.8" width="20" height="20" rx="1.2" fill="#4bacc6"/>
<rect x="579.57" y="1672.3" width="20" height="20" rx="1.2" fill="#4bacc6"/>
<rect x="702.91" y="1660.6" width="20" height="20" rx="1.2" fill="#4bacc6"/>
<text transform="translate(587.9 1680.9)" font-size="55" text-anchor="middle" font-weight="bold" fill="#4bacc6">*</text>
</g>
<g>
<text transform="translate(889.7 1627) scale(1 1.02)" font-size="41" font-weight="bold">f</text>
<text transform="translate(1277 1625.7) scale(1 1.03)" font-size="41" font-weight="bold" font-style="italic">E. faecium</text>
<g stroke="#000" stroke-width="3.2" fill="none" stroke-linecap="butt">
<path d="M1096.4 1650.1V2206"/>
<path d="M1085.9 2195.5H1714.7"/>
<path d="M1085.9 2141.12H1096.4M1085.9 2086.74H1096.4M1085.9 2032.36H1096.4M1085.9 1977.98H1096.4M1085.9 1923.6H1096.4M1085.9 1869.22H1096.4M1085.9 1814.84H1096.4M1085.9 1760.46H1096.4M1085.9 1706.08H1096.4M1085.9 1651.7H1096.4M1219.74 2195.5V2206M1343.08 2195.5V2206M1466.42 2195.5V2206M1589.76 2195.5V2206M1713.1 2195.5V2206"/>
</g>
<g font-weight="bold">
<text transform="translate(1016.2 2219.9) scale(1 1.06)" font-size="33.7">10<tspan font-size="22.5" dy="-9.25">0</tspan></text>
<text transform="translate(1016.2 2165.15) scale(1 1.06)" font-size="33.7">10<tspan font-size="22.5" dy="-9.25">1</tspan></text>
<text transform="translate(1016.2 2110.4) scale(1 1.06)" font-size="33.7">10<tspan font-size="22.5" dy="-9.25">2</tspan></text>
<text transform="translate(1016.2 2055.65) scale(1 1.06)" font-size="33.7">10<tspan font-size="22.5" dy="-9.25">3</tspan></text>
<text transform="translate(1016.2 2000.9) scale(1 1.06)" font-size="33.7">10<tspan font-size="22.5" dy="-9.25">4</tspan></text>
<text transform="translate(1016.2 1946.15) scale(1 1.06)" font-size="33.7">10<tspan font-size="22.5" dy="-9.25">5</tspan></text>
<text transform="translate(1016.2 1891.4) scale(1 1.06)" font-size="33.7">10<tspan font-size="22.5" dy="-9.25">6</tspan></text>
<text transform="translate(1016.2 1836.65) scale(1 1.06)" font-size="33.7">10<tspan font-size="22.5" dy="-9.25">7</tspan></text>
<text transform="translate(1016.2 1781.9) scale(1 1.06)" font-size="33.7">10<tspan font-size="22.5" dy="-9.25">8</tspan></text>
<text transform="translate(1016.2 1727.15) scale(1 1.06)" font-size="33.7">10<tspan font-size="22.5" dy="-9.25">9</tspan></text>
<text transform="translate(1016.2 1672.4) scale(1 1.06)" font-size="33.7">10<tspan font-size="22.5" dy="-9.25">10</tspan></text>
<text transform="translate(1096.4 2246.7) scale(1 1.06)" font-size="33.7" text-anchor="middle">0</text>
<text transform="translate(1219.74 2246.7) scale(1 1.06)" font-size="33.7" text-anchor="middle">200</text>
<text transform="translate(1343.08 2246.7) scale(1 1.06)" font-size="33.7" text-anchor="middle">400</text>
<text transform="translate(1466.42 2246.7) scale(1 1.06)" font-size="33.7" text-anchor="middle">600</text>
<text transform="translate(1589.76 2246.7) scale(1 1.06)" font-size="33.7" text-anchor="middle">800</text>
<text transform="translate(1713.1 2246.7) scale(1 1.06)" font-size="33.7" text-anchor="middle">1000</text>
</g>
<text transform="translate(1432 2316.5) scale(1 1.01)" font-size="37.7" text-anchor="middle" font-weight="bold">irradiation dose [J cm<tspan font-size="23" dy="-12.5">-2</tspan><tspan dy="12.5">]</tspan></text>
<text transform="translate(967.7 1926.5) rotate(-90) scale(1 1.01)" font-size="37.7" text-anchor="middle" font-weight="bold">mean bacterial count (cfu ml<tspan font-size="23" dy="-12.5">-1</tspan><tspan dy="12.5">)</tspan></text>
<path d="M1219.74 1773V1793.2M1211.74 1773H1227.74M1211.74 1793.2H1227.74M1343.08 1788V1801.7M1335.08 1788H1351.08M1335.08 1801.7H1351.08M1466.42 1800V1822.5M1458.42 1800H1474.42M1458.42 1822.5H1474.42M1713.1 1822.5V1864M1705.1 1822.5H1721.1M1705.1 1864H1721.1M1343.08 1729.6V1747M1335.08 1729.6H1351.08M1335.08 1747H1351.08M1466.42 1726.6V1742M1458.42 1726.6H1474.42M1458.42 1742H1474.42M1589.76 1725.9V1742M1581.76 1725.9H1597.76M1581.76 1742H1597.76M1589.76 1856.4V1893M1581.76 1856.4H1597.76M1581.76 1893H1597.76M1713.1 1862V1891M1705.1 1862H1721.1M1705.1 1891H1721.1M1466.42 1738V1757.3M1458.42 1738H1474.42M1458.42 1757.3H1474.42" stroke="#000" stroke-width="3" fill="none"/>
<path d="M1096.4 1776.83L1219.74 1782L1343.08 1794.5L1466.42 1810L1589.76 1832.9L1713.1 1836.8" stroke="#215968" stroke-width="8.8" fill="none" stroke-linecap="round" stroke-linejoin="round"/>
<path d="M1096.4 1767.53L1105.7 1776.83L1096.4 1786.13L1087.1 1776.83Z" fill="#215968" stroke="#215968" stroke-width="1.5" stroke-linejoin="round"/>
<path d="M1219.74 1772.7L1229.04 1782L1219.74 1791.3L1210.44 1782Z" fill="#215968" stroke="#215968" stroke-width="1.5" stroke-linejoin="round"/>
<path d="M1343.08 1785.2L1352.38 1794.5L1343.08 1803.8L1333.78 1794.5Z" fill="#215968" stroke="#215968" stroke-width="1.5" stroke-linejoin="round"/>
<path d="M1466.42 1800.7L1475.72 1810L1466.42 1819.3L1457.12 1810Z" fill="#215968" stroke="#215968" stroke-width="1.5" stroke-linejoin="round"/>
<path d="M1589.76 1823.6L1599.06 1832.9L1589.76 1842.2L1580.46 1832.9Z" fill="#215968" stroke="#215968" stroke-width="1.5" stroke-linejoin="round"/>
<path d="M1713.1 1827.5L1722.4 1836.8L1713.1 1846.1L1703.8 1836.8Z" fill="#215968" stroke="#215968" stroke-width="1.5" stroke-linejoin="round"/>
<path d="M1096.4 1776.83L1219.74 1749.3L1343.08 1737.8L1466.42 1733.9L1589.76 1733.6L1713.1 1729.6" stroke="#215968" stroke-width="8.8" fill="none" stroke-linecap="round" stroke-linejoin="round" stroke-dasharray="18 18"/>
<path d="M1096.4 1767.53L1105.7 1776.83L1096.4 1786.13L1087.1 1776.83Z" fill="#215968" stroke="#215968" stroke-width="1.5" stroke-linejoin="round"/>
<path d="M1219.74 1740L1229.04 1749.3L1219.74 1758.6L1210.44 1749.3Z" fill="#215968" stroke="#215968" stroke-width="1.5" stroke-linejoin="round"/>
<path d="M1343.08 1728.5L1352.38 1737.8L1343.08 1747.1L1333.78 1737.8Z" fill="#215968" stroke="#215968" stroke-width="1.5" stroke-linejoin="round"/>
<path d="M1466.42 1724.6L1475.72 1733.9L1466.42 1743.2L1457.12 1733.9Z" fill="#215968" stroke="#215968" stroke-width="1.5" stroke-linejoin="round"/>
<path d="M1589.76 1724.3L1599.06 1733.6L1589.76 1742.9L1580.46 1733.6Z" fill="#215968" stroke="#215968" stroke-width="1.5" stroke-linejoin="round"/>
<path d="M1713.1 1720.3L1722.4 1729.6L1713.1 1738.9L1703.8 1729.6Z" fill="#215968" stroke="#215968" stroke-width="1.5" stroke-linejoin="round"/>
<path d="M1096.4 1776.83L1219.74 1779.8L1343.08 1783.2L1466.42 1808.2L1589.76 1868L1713.1 1874.9" stroke="#4bacc6" stroke-width="8.8" fill="none" stroke-linecap="round" stroke-linejoin="round"/>
<rect x="1086.4" y="1766.83" width="20" height="20" rx="1.2" fill="#4bacc6"/>
<rect x="1209.74" y="1769.8" width="20" height="20" rx="1.2" fill="#4bacc6"/>
<rect x="1333.08" y="1773.2" width="20" height="20" rx="1.2" fill="#4bacc6"/>
<rect x="1456.42" y="1798.2" width="20" height="20" rx="1.2" fill="#4bacc6"/>
<rect x="1579.76" y="1858" width="20" height="20" rx="1.2" fill="#4bacc6"/>
<rect x="1703.1" y="1864.9" width="20" height="20" rx="1.2" fill="#4bacc6"/>
<path d="M1096.4 1776.83L1219.74 1756.2L1343.08 1750.2L1466.42 1746.7L1589.76 1746.7L1713.1 1746.7" stroke="#4bacc6" stroke-width="8.8" fill="none" stroke-linecap="round" stroke-linejoin="round" stroke-dasharray="18 18"/>
<rect x="1086.4" y="1766.83" width="20" height="20" rx="1.2" fill="#4bacc6"/>
<rect x="1209.74" y="1746.2" width="20" height="20" rx="1.2" fill="#4bacc6"/>
<rect x="1333.08" y="1740.2" width="20" height="20" rx="1.2" fill="#4bacc6"/>
<rect x="1456.42" y="1736.7" width="20" height="20" rx="1.2" fill="#4bacc6"/>
<rect x="1579.76" y="1736.7" width="20" height="20" rx="1.2" fill="#4bacc6"/>
<rect x="1703.1" y="1736.7" width="20" height="20" rx="1.2" fill="#4bacc6"/>
<text transform="translate(1219.6 1741.3)" font-size="55" text-anchor="middle" font-weight="bold" fill="#215968">*</text>
<text transform="translate(1590.4 1724.9)" font-size="55" text-anchor="middle" font-weight="bold" fill="#4bacc6">*</text>
<text transform="translate(1714.2 1697.9)" font-size="55" text-anchor="middle" font-weight="bold" fill="#4bacc6">*</text>
<text transform="translate(1714.2 1724.9)" font-size="55" text-anchor="middle" font-weight="bold" fill="#215968">*</text>
</g>
<g>
<path d="M230.6 2395.5H316.2" stroke="#215968" stroke-width="7.6" stroke-linecap="round" fill="none"/>
<path d="M273.4 2386L280.9 2395.5L273.4 2405L265.9 2395.5Z" fill="#215968" stroke="#215968" stroke-width="1" stroke-linejoin="round"/>
<text transform="translate(326.5 2406.9) scale(1 1.06)" font-size="34.1" font-weight="bold">RPMI</text>
<path d="M502 2395.5H586.2" stroke="#215968" stroke-width="7.6" stroke-linecap="round" fill="none" stroke-dasharray="12.2 13.9"/>
<path d="M544.1 2386L551.6 2395.5L544.1 2405L536.6 2395.5Z" fill="#215968" stroke="#215968" stroke-width="1" stroke-linejoin="round"/>
<text transform="translate(597 2406.9) scale(1 1.06)" font-size="34.1" font-weight="bold">RPMI control</text>
<path d="M897.8 2395.5H982.6" stroke="#4bacc6" stroke-width="7.6" stroke-linecap="round" fill="none"/>
<rect x="931.2" y="2385.75" width="18" height="19.5" rx="1" fill="#4bacc6"/>
<text transform="translate(993 2406.9) scale(1 1.06)" font-size="34.1" font-weight="bold">DMEM</text>
<path d="M1187.2 2395.5H1272.4" stroke="#4bacc6" stroke-width="7.6" stroke-linecap="round" fill="none" stroke-dasharray="12.2 13.9"/>
<rect x="1220.8" y="2385.75" width="18" height="19.5" rx="1" fill="#4bacc6"/>
<text transform="translate(1282 2406.9) scale(1 1.06)" font-size="34.1" font-weight="bold">DMEM control</text>
</g>
</svg></body></html>
